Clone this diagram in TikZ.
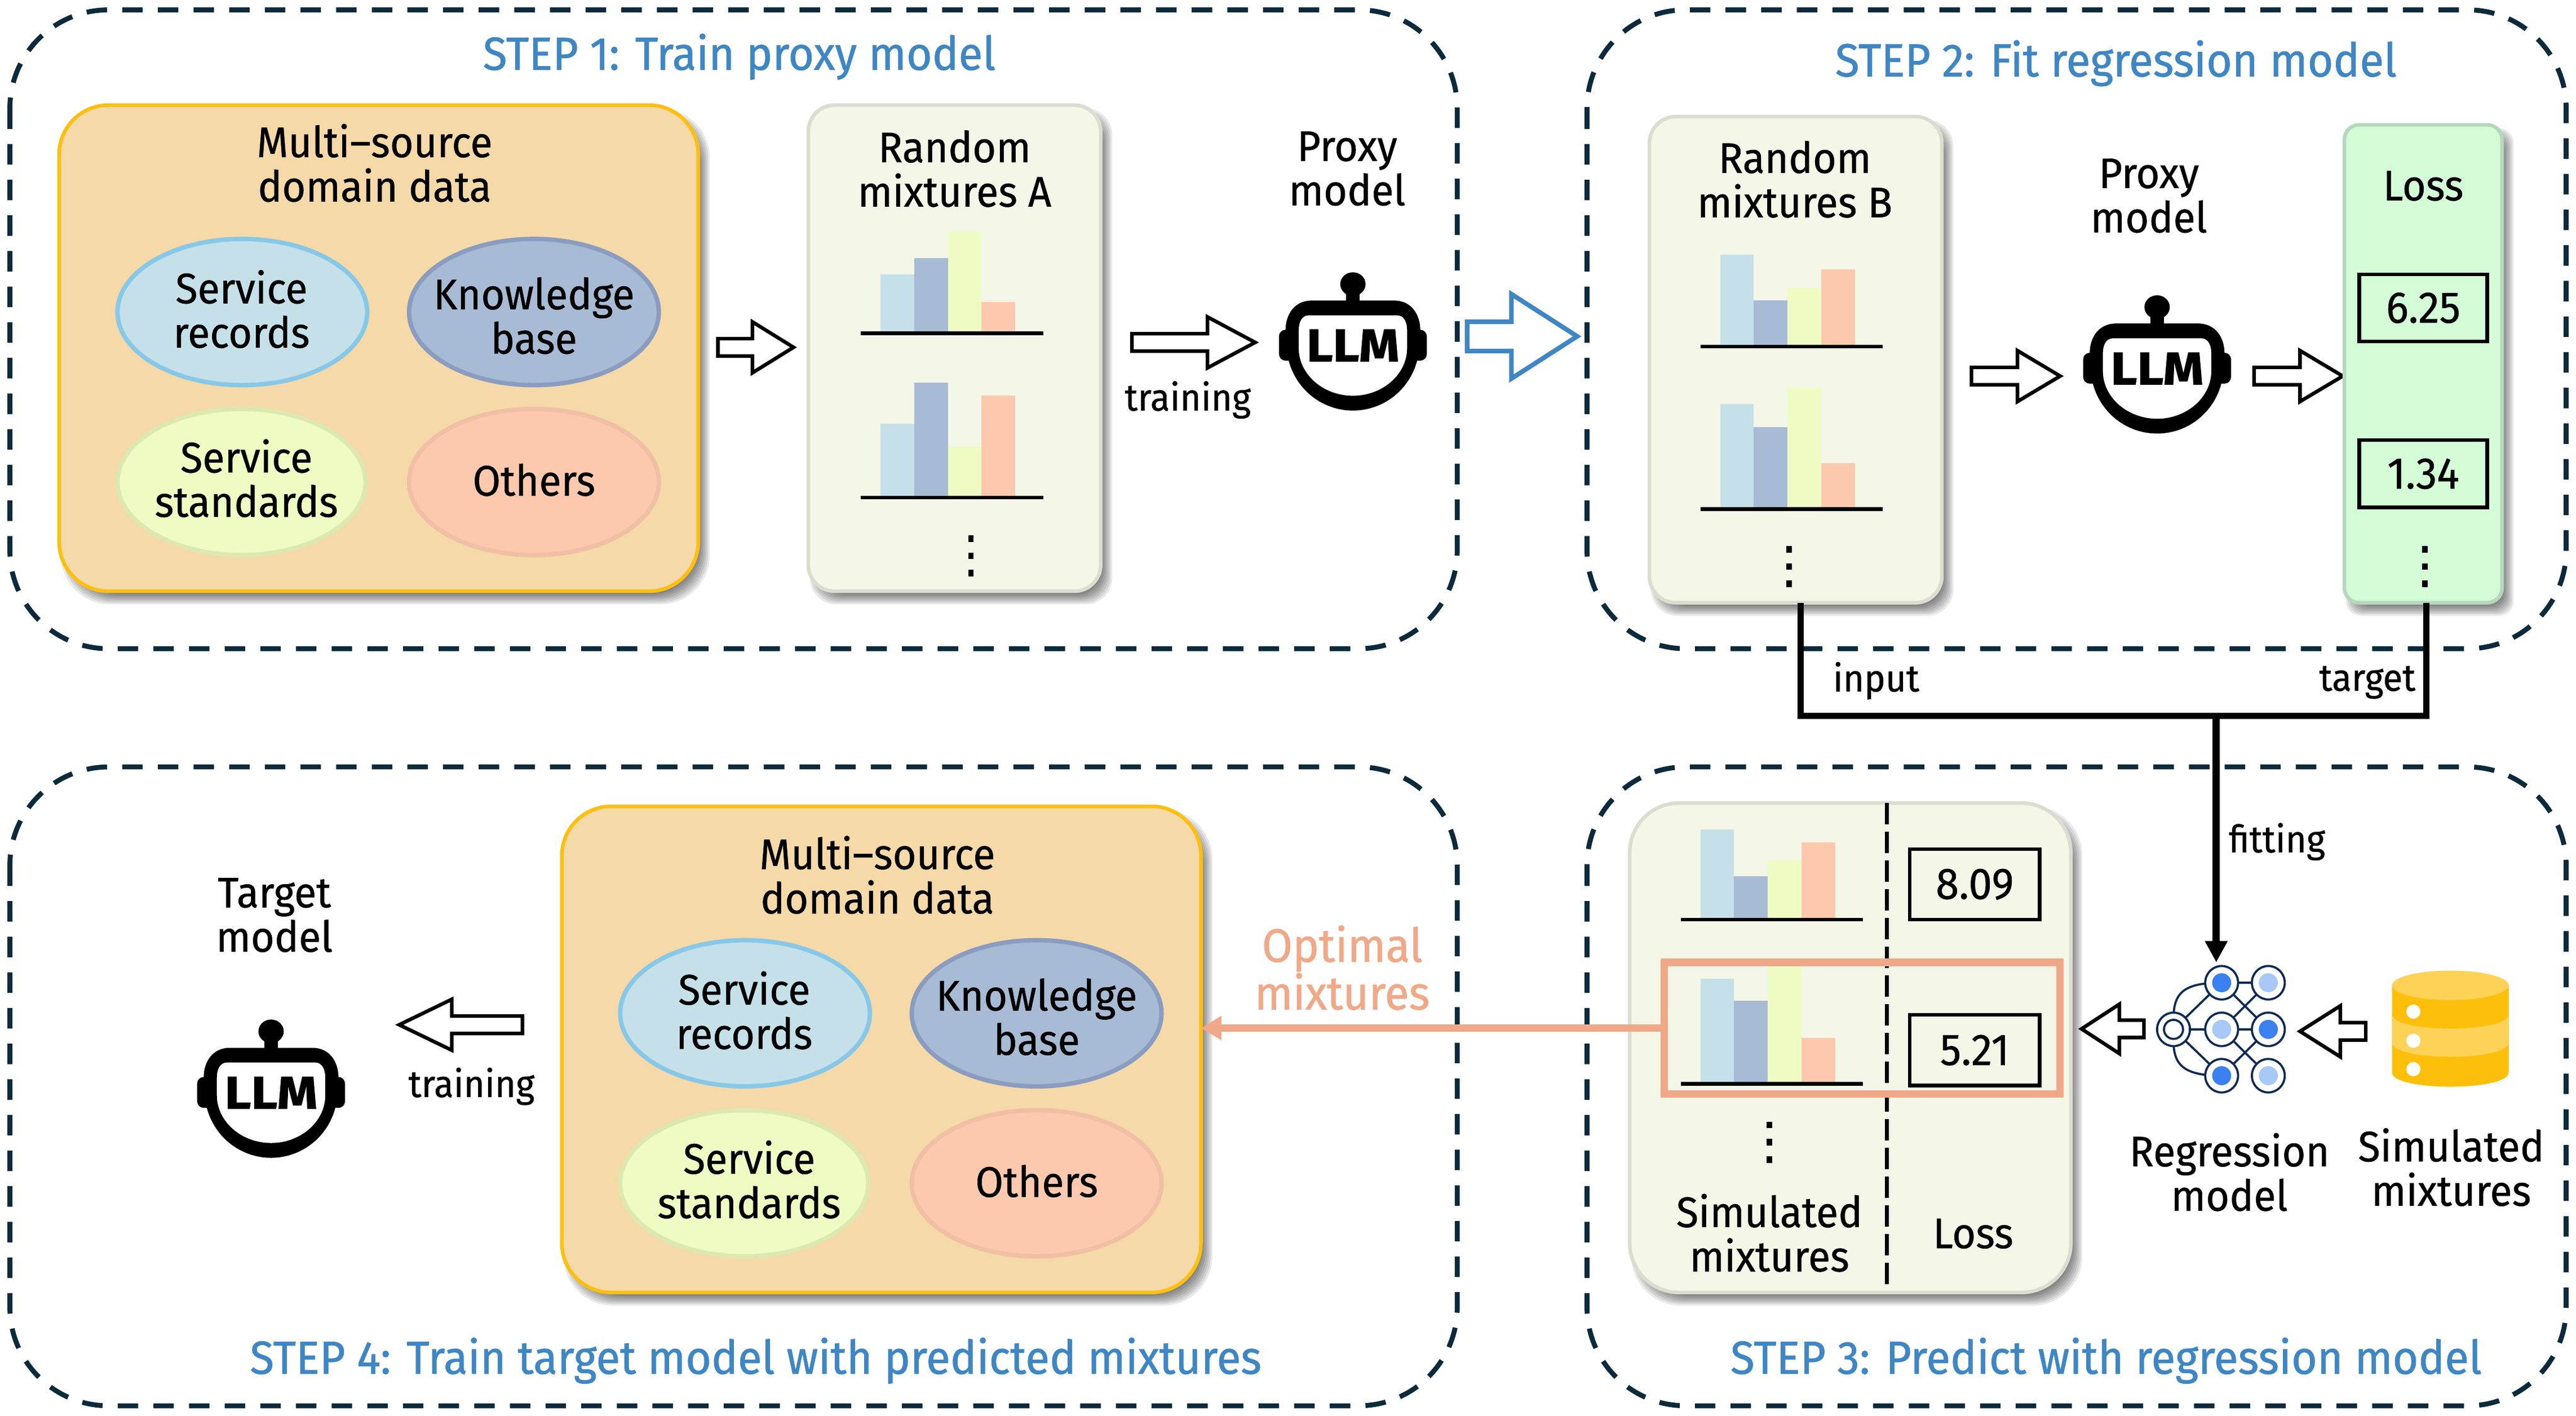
\documentclass[tikz,border=0pt]{standalone}
\usepackage{fontspec}
\setmainfont[FakeStretch=0.95,FakeBold=0.6]{Fira Sans}
\newfontfamily\titlefont[FakeStretch=0.95,FakeBold=0.9]{Fira Sans}
\newfontfamily\llmfont[FakeBold=1.2,FakeStretch=1.12]{Fira Sans Bold}
\usetikzlibrary{arrows.meta,calc}
\definecolor{dashnavy}{HTML}{0B2A3B}
\definecolor{stepblue}{HTML}{3F86C4}
\definecolor{orfill}{HTML}{F5D9A8}
\definecolor{orline}{HTML}{FDBF10}
\definecolor{cA}{HTML}{C5E0E8}\definecolor{cAl}{HTML}{87C8E8}
\definecolor{cB}{HTML}{A8BBD4}\definecolor{cBl}{HTML}{8A9CC0}
\definecolor{cC}{HTML}{EEFCC4}\definecolor{cCl}{HTML}{DDE8B0}
\definecolor{cD}{HTML}{FDC9AE}\definecolor{cDl}{HTML}{F0BFA5}
\definecolor{creamf}{HTML}{F4F6E8}\definecolor{creaml}{HTML}{DCDCD0}
\definecolor{greenf}{HTML}{D3FBD6}\definecolor{greenl}{HTML}{B5D8BC}
\definecolor{optor}{HTML}{F0A988}
\definecolor{netd}{HTML}{0E2A55}\definecolor{netb}{HTML}{3A80F0}\definecolor{netl}{HTML}{A8C8F8}
\definecolor{dbl}{HTML}{FDD257}\definecolor{dbd}{HTML}{FDBF0A}
\tikzset{
  x=1pt,y=-1pt,
  stepframe/.style={draw=dashnavy,line width=3pt,dash pattern=on 12.5pt off 9.2pt,rounded corners=60pt},
  steptitle/.style={text=stepblue,font=\titlefont\fontsize{28.3}{30}\selectfont,inner sep=0pt,yshift=-1pt},
  lab/.style={align=center,inner sep=0pt,font=\fontsize{26}{27}\selectfont,yshift=0.8pt},
  smalllab/.style={inner sep=0pt,font=\fontsize{23}{25}\selectfont},
  bararrow/.style={draw=black,fill=white,line width=2.2pt,miter limit=10},
  conn/.style={draw=black,line width=3.8pt},
  valbox/.style={draw=black,line width=2.2pt,inner sep=0pt,font=\fontsize{27}{27}\selectfont},
  netedge/.style={draw=netd,line width=1.3pt},
}
\newcommand{\panelnode}[8]{%
  \foreach \d in {-3,-2,-1,0,1,2,3}{%
    \fill[black,opacity=.085,rounded corners=#6pt] (#2+4-\d,#3+5-\d) rectangle (#4+4+\d,#5+5+\d);}
  \node[draw=#8,fill=#7,line width=2.2pt,rounded corners=#6pt,inner sep=0pt,outer sep=0pt,
    minimum width={(#4-#2)*1pt},minimum height={(#5-#3)*1pt}] (#1) at ({(#2+#4)/2},{(#3+#5)/2}) {};}
\newcommand{\blockarrow}[7][]{%
  \draw[bararrow,#1] (#2,#5) -- (#3,#5-#6) -- (#3,#5-#7) -- (#4,#5-#7) -- (#4,#5+#7) -- (#3,#5+#7) -- (#3,#5+#6) -- cycle;}
\newcommand{\chart}[6]{%
  \fill[cA] (#1+12,#3) rectangle (#1+32.5,#2);
  \fill[cB] (#1+32.5,#4) rectangle (#1+53,#2);
  \fill[cC] (#1+53,#5) rectangle (#1+73.5,#2);
  \fill[cD] (#1+73.5,#6) rectangle (#1+94,#2);
  \draw[black,line width=2.2pt] (#1,#2) -- (#1+111,#2);}
\newcommand{\tridots}[2]{%
  \foreach \k in {-10.5,0,10.5}{\fill[black] (#1-1.6,#2+\k-2) rectangle (#1+1.6,#2+\k+2);}}
\newcommand{\llmicon}[3]{%
  \begin{scope}[shift={(#2,#3)}]
    \fill[black,rounded corners=4pt] (-45,-9.2) rectangle (-35,9.6);
    \fill[black,rounded corners=4pt] (35,-9.2) rectangle (45,9.6);
    \fill[black] (-4.2,-33) rectangle (4.2,-26);
    \fill[black] (0,-37) ellipse [x radius=7.7,y radius=7.2];
    \fill[black,even odd rule]
      (-25,-27) -- (25,-27) .. controls (36,-27) and (41,-18) .. (41,-9) -- (39,10)
      .. controls (34,28) and (18,40) .. (0,40) .. controls (-18,40) and (-34,28) .. (-39,10)
      -- (-41,-9) .. controls (-41,-18) and (-36,-27) .. (-25,-27) -- cycle
      (-27,-18) -- (27,-18) .. controls (31,-18) and (33,-14) .. (33,-9) -- (33,2)
      .. controls (33,18) and (18,31) .. (0,31) .. controls (-18,31) and (-33,18) .. (-33,2)
      -- (-33,-9) .. controls (-33,-14) and (-31,-18) .. (-27,-18) -- cycle;
    \node[inner sep=0pt,font=\llmfont\fontsize{28}{28}\selectfont] (#1) at (0,0.4) {LLM};
  \end{scope}}
\newcommand{\domainpanel}[4]{%
  \begin{scope}[shift={(#2,#3)}]
    \panelnode{#1}{36}{64}{425}{360}{30}{orfill}{orline}
    \node[lab] (#1h) at (228,{100+#4}) {Multi–source\\domain data};
    \draw[draw=cAl,fill=cA,line width=2.7pt] (147.5,190) ellipse [x radius=76,y radius=44.5];
    \node[lab] (#1a) at (147,189) {Service\\records};
    \draw[draw=cBl,fill=cB,line width=2.7pt] (325,190) ellipse [x radius=76,y radius=44.5];
    \node[lab] (#1b) at (325,193) {Knowledge\\base};
    \draw[draw=cCl,fill=cC,line width=2.7pt] (147,293.5) ellipse [x radius=75.5,y radius=44.5];
    \node[lab] (#1c) at (150,292) {Service\\standards};
    \draw[draw=cDl,fill=cD,line width=2.7pt] (325,293.5) ellipse [x radius=76,y radius=44.5];
    \node[lab] (#1d) at (325,293) {Others};
  \end{scope}}
\begin{document}
\begin{tikzpicture}
\useasboundingbox (0,0) rectangle (1568,862);
\fill[white] (0,0) rectangle (1568,862);
\draw[stepframe] (6,6) rectangle (887,395);
\draw[stepframe] (966,6) rectangle (1562,395);
\draw[stepframe] (966,467) rectangle (1562,856);
\draw[stepframe] (6,467) rectangle (887,856);
\node[steptitle] (t1) at (450,33.5) {STEP 1: Train proxy model};
\node[steptitle] (t2) at (1288,37.5) {STEP 2: Fit regression model};
\node[steptitle] (t3) at (1282,827.5) {STEP 3: Predict with regression model};
\node[steptitle] (t4) at (460,827.5) {STEP 4: Train target model with predicted mixtures};
\domainpanel{dataA}{0}{0}{0}
\blockarrow{483}{458}{437}{211.5}{15.5}{5.3}
\panelnode{mixA}{492}{64}{670}{360}{16}{creamf}{creaml}
\node[lab] (mixAt) at (581,103.5) {Random\\mixtures A};
\chart{524}{203}{167}{157}{141}{184}
\chart{524}{303}{258}{233}{272}{241}
\tridots{591}{338.5}
\blockarrow{764}{735}{689}{208.5}{15.5}{5.3}
\node[smalllab] (trainA) at (723,243.5) {training};
\node[lab] (proxyA) at (820,103.5) {Proxy\\model};
\llmicon{llmA}{823.5}{210}
\blockarrow[draw=stepblue,line width=2.8pt]{960}{920}{893}{204.8}{25.7}{8.9}
\panelnode{mixB}{1004}{71}{1182}{367}{16}{creamf}{creaml}
\node[lab] (mixBt) at (1092.5,110) {Random\\mixtures B};
\chart{1035}{211}{155}{183}{175}{164}
\chart{1035}{310}{246}{260}{236}{282}
\tridots{1089}{345}
\blockarrow{1254}{1228}{1200}{229}{15.5}{5.3}
\node[lab] (proxyB) at (1308,120) {Proxy\\model};
\llmicon{llmB}{1313}{224}
\blockarrow{1426}{1400}{1372}{229}{15.5}{5.3}
\panelnode{lossP}{1427}{76}{1523}{367}{9}{greenf}{greenl}
\node[lab] (lossT) at (1475,114) {Loss};
\node[valbox,minimum width=78pt,minimum height=41pt] (v1) at (1475,187.5) {6.25};
\node[valbox,minimum width=78pt,minimum height=41pt] (v2) at (1475,288.5) {1.34};
\tridots{1476}{345}
\coordinate (joint) at (1349,436);
\coordinate (regTop) at (1349,586);
\draw[conn,line join=miter] ([xshift=3pt]mixB.south) |- (joint) -| ([xshift=2pt]lossP.south);
\draw[conn,line width=4.4pt,-{Triangle[length=13pt,width=13pt]}] (joint) -- (regTop);
\node[smalllab] (lin) at (1142,414.5) {input};
\node[smalllab] (ltg) at (1441,415.5) {target};
\node[smalllab] (lft) at (1386,512.5) {fitting};
\panelnode{simP}{992}{489}{1260.5}{787}{30}{creamf}{creaml}
\draw[black,line width=2.4pt,dash pattern=on 13pt off 4.5pt] (1148.5,489) -- (1148.5,782);
\chart{1023}{560}{505}{533.5}{524}{513}
\chart{1023}{660}{596}{609.5}{588}{632}
\node[valbox,minimum width=79pt,minimum height=43pt] (v3) at (1202,538.5) {8.09};
\node[valbox,minimum width=79pt,minimum height=43pt] (v4) at (1202,639.5) {5.21};
\node[draw=optor,line width=4.5pt,inner sep=0pt,outer sep=0pt,minimum width=241pt,minimum height=80pt] (optrect) at (1133.5,626) {};
\tridots{1077}{695.5}
\node[lab] (simT) at (1077,751.5) {Simulated\\mixtures};
\node[lab] (lossS) at (1201,752) {Loss};
\blockarrow{1267}{1290}{1305}{626.5}{15}{5.3}
\coordinate (n00) at (1323,626.8);
\coordinate (n10) at (1352.3,598.4);\coordinate (n11) at (1352.3,626.8);\coordinate (n12) at (1352.3,655);
\coordinate (n20) at (1380.7,598.4);\coordinate (n21) at (1380.7,626.8);\coordinate (n22) at (1380.7,655);
\draw[netedge] (1323,620) .. controls (1323,604) and (1330,598.4) .. (n10);
\draw[netedge] (1323,634) .. controls (1323,649) and (1330,655) .. (n12);
\draw[netedge] (n00) -- (n10) (n00) -- (n11) (n00) -- (n12) (n10) -- (n20) (n11) -- (n21) (n10) -- (n21) (n11) -- (n20) (n11) -- (n22) (n12) -- (n21);
\foreach \p/\c in {n10/netb,n12/netb,n20/netl,n22/netl,n11/netl,n21/netb}{
  \draw[netd,fill=white,line width=1.3pt] (\p) ellipse [x radius=10,y radius=10.2];
  \fill[\c] (\p) ellipse [x radius=5.8,y radius=5.8];}
\draw[netd,fill=white,line width=1.3pt] (n00) ellipse [x radius=10,y radius=10.2];
\draw[netd,fill=white,line width=1.3pt] (n00) ellipse [x radius=5.8,y radius=5.8];
\node[lab] (regT) at (1357,714.5) {Regression\\model};
\blockarrow{1400}{1424.5}{1440}{628}{15.5}{5.3}
\fill[dbd] (1456,600) -- (1456,653) .. controls (1456,664.6) and (1527,664.6) .. (1527,653) -- (1527,600) -- cycle;
\fill[dbl] (1456,617.6) .. controls (1456,629.2) and (1527,629.2) .. (1527,617.6) -- (1527,634.8) .. controls (1527,646.4) and (1456,646.4) .. (1456,634.8) -- cycle;
\fill[dbl] (1491.5,600) ellipse [x radius=35.5,y radius=9];
\foreach \yy in {616,633.7,651}{\fill[white] (1469,\yy) circle [radius=4.3];}
\node[lab] (simD) at (1492,711.5) {Simulated\\mixtures};
\domainpanel{dataB}{306}{427}{6.5}
\draw[draw=optor,line width=4.4pt,-{Triangle[length=12.5pt,width=14pt]}] (optrect.west) -- (optrect.west -| dataB.east);
\node[lab,text=optor,font=\titlefont\fontsize{28.5}{29}\selectfont] (optT) at (817,590) {Optimal\\mixtures};
\blockarrow{243}{275}{318}{624}{15.5}{5.3}
\node[smalllab] (trainB) at (287,661.5) {training};
\node[lab] (targetT) at (167,558) {Target\\model};
\llmicon{llmC}{165}{665}
\end{tikzpicture}
\end{document}
